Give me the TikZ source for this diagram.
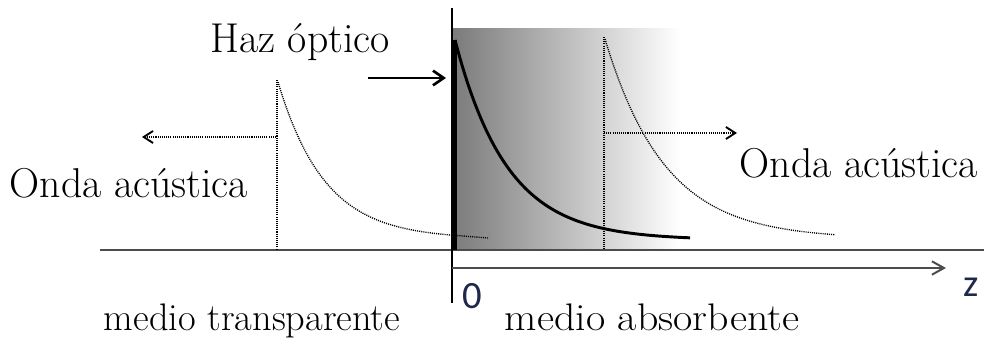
\documentclass[tikz,border=0pt]{standalone}
\usepackage{fontspec}
\usepackage{graphicx}
\newfontfamily\axisfont{Carlito}
\usetikzlibrary{arrows.meta}
\definecolor{axisnavy}{RGB}{30,40,75}
\tikzset{
  lbl/.style={font=\fontsize{28.8}{34}\selectfont, inner sep=0pt, anchor=base},
  biglbl/.style={font=\fontsize{31.3}{36}\selectfont, inner sep=0pt, anchor=base},
  axlbl/.style={font=\axisfont\fontsize{29}{34}\selectfont, inner sep=0pt, anchor=base, text=axisnavy},
  dotline/.style={line width=1pt, dash pattern=on 0.8pt off 0.8pt, black},
  thinaxis/.style={line width=0.9pt, black!70},
}
\begin{document}
\begin{tikzpicture}[x=0.75pt,y=-0.75pt]
\useasboundingbox (0,0) rectangle (984,343);
% absorbing medium gradient
\shade[left color=black!52, right color=white] (452,28) rectangle (680,250);
% baseline
\coordinate (bL) at (100,250);
\coordinate (bR) at (984,250);
\draw[thinaxis] (bL) -- (bR);
% vertical axis
\coordinate (vT) at (452,8);
\coordinate (vB) at (452,303);
\draw[line width=1.2pt] (vT) -- (vB);
% z axis
\coordinate (z0) at (452,268);
\coordinate (z1) at (946,268);
\draw[thinaxis, -{Straight Barb[length=9pt,width=10pt,line width=1.5pt]}] (z0) -- (z1);
% thick bar and optical absorption curve
\coordinate (barT) at (454.5,40);
\coordinate (barB) at (454.5,250);
\draw[line width=3pt] (barT) -- (barB);
\draw[line width=2.2pt] plot[domain=455:690, samples=100] (\x,{240-200*exp(-(\x-455)/52)});
% optical beam arrow
\coordinate (hA) at (368,78);
\coordinate (hB) at (446,78);
\draw[line width=2.2pt, -{Straight Barb[length=8pt,width=11pt,line width=2pt]}] (hA) -- (hB);
% left acoustic wave
\coordinate (lT) at (277,80);
\coordinate (lB) at (277,250);
\draw[dotline] (lT) -- (lB);
\draw[dotline] plot[domain=278:450, samples=100] (\x,{239-157*exp(-(\x-278)/47)}) -- (488,238);
\coordinate (laS) at (276,137);
\coordinate (laE) at (142,137);
\draw[dotline, -{Straight Barb[length=7pt,width=9pt,line width=1.4pt]}] (laS) -- (laE);
% right acoustic wave
\coordinate (rT) at (604,37);
\coordinate (rB) at (604,250);
\draw[dotline] (rT) -- (rB);
\draw[dotline] plot[domain=605:835, samples=100] (\x,{239-200*exp(-(\x-605)/60)});
\coordinate (raS) at (604,133);
\coordinate (raE) at (737,133);
\draw[dotline, -{Straight Barb[length=7pt,width=9pt,line width=1.4pt]}] (raS) -- (raE);
% labels
\node[biglbl] (haz) at (300,52) {Haz óptico};
\node[biglbl] (ondaL) at (129,197) {Onda acústica};
\node[biglbl] (ondaR) at (859,177) {Onda acústica};
\node[lbl] (mtrans) at (252,330) {medio transparente};
\node[lbl] (mabs) at (652,330) {\scalebox{1.09}[1]{medio absorbente}};
\node[axlbl] (zero) at (472,308) {0};
\node[axlbl] (zlbl) at (971,296) {z};
\end{tikzpicture}
\end{document}
